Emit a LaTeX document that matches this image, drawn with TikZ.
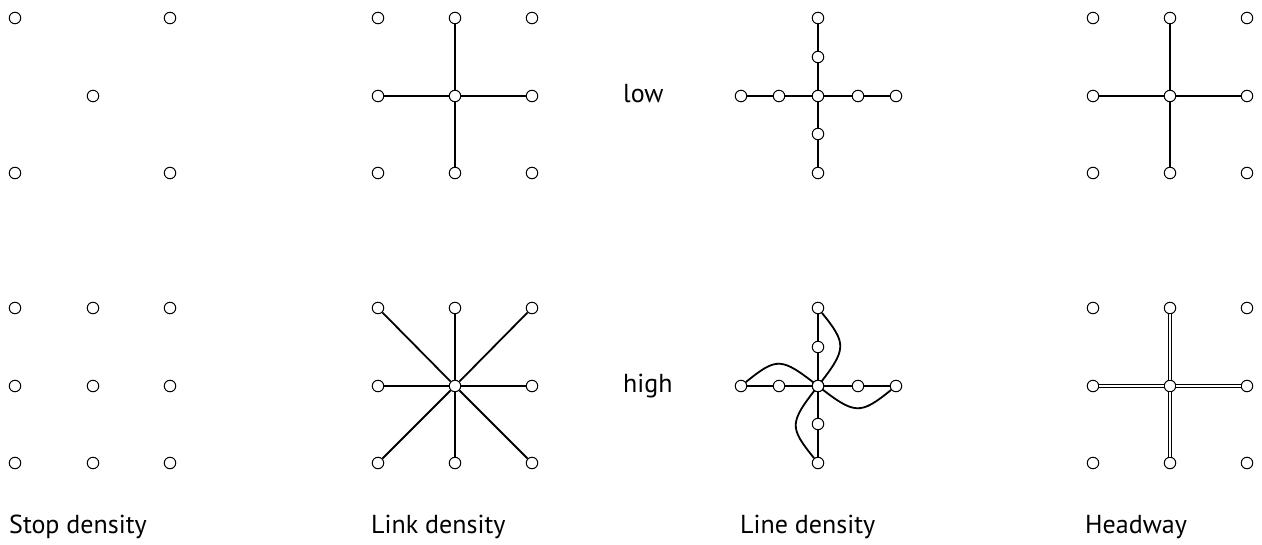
\documentclass[tikz,border=0pt]{standalone}
\usepackage{fontspec}
\setmainfont{PT Sans}
\usetikzlibrary{positioning}

\begin{document}
\begin{tikzpicture}[x=1pt, y=1pt,
  stop/.style={circle, draw, fill=white, inner sep=0pt, minimum size=11.5pt, line width=1pt},
  link/.style={line width=1.1pt},
  heavy/.style={line width=1.8pt},
  twin/.style={double, double distance=2pt, line width=1.3pt},
  lbl/.style={font=\fontsize{26}{30}\selectfont, anchor=base west, inner sep=0pt}
]
  \useasboundingbox (0,0) rectangle (1262,544);

  % stop density
  \node[stop] (sa1) at (15,526) {};
  \node[stop] (sa2) at (170,526) {};
  \node[stop] (sa3) at (93,448) {};
  \node[stop] (sa4) at (15,371) {};
  \node[stop] (sa5) at (170,371) {};
  \foreach \i/\x in {1/15, 2/93, 3/170}
    \foreach \j/\y in {1/236, 2/158, 3/81}
      \node[stop] (sb\i\j) at (\x,\y) {};

  % link density
  \foreach \i/\x in {1/378, 2/455, 3/532}
    \foreach \j/\y in {1/526, 2/448, 3/371}
      \node[stop] (ka\i\j) at (\x,\y) {};
  \foreach \i/\x in {1/378, 2/455, 3/532}
    \foreach \j/\y in {1/236, 2/158, 3/81}
      \node[stop] (kb\i\j) at (\x,\y) {};
  \draw[link] (ka22) -- (ka21) (ka22) -- (ka23) (ka22) -- (ka12) (ka22) -- (ka32);
  \draw[link] (kb22) -- (kb21) (kb22) -- (kb23) (kb22) -- (kb12) (kb22) -- (kb32);
  \draw[heavy] (kb22) -- (kb11) (kb22) -- (kb31) (kb22) -- (kb13) (kb22) -- (kb33);

  % line density
  \node[lbl] (low) at (623,441) {low};
  \node[lbl] (high) at (623,151) {high};

  \node[stop] (la0) at (818,448) {};
  \node[stop] (lan2) at (818,526) {};
  \node[stop] (lan1) at (818,487) {};
  \node[stop] (las1) at (818,410) {};
  \node[stop] (las2) at (818,371) {};
  \node[stop] (law2) at (741,448) {};
  \node[stop] (law1) at (779,448) {};
  \node[stop] (lae1) at (858,448) {};
  \node[stop] (lae2) at (896,448) {};
  \draw[link] (la0) -- (lan1) -- (lan2) (la0) -- (las1) -- (las2)
              (la0) -- (law1) -- (law2) (la0) -- (lae1) -- (lae2);

  \node[stop] (lb0) at (818,158) {};
  \node[stop] (lbn2) at (818,236) {};
  \node[stop] (lbn1) at (818,197) {};
  \node[stop] (lbs1) at (818,120) {};
  \node[stop] (lbs2) at (818,81) {};
  \node[stop] (lbw2) at (741,158) {};
  \node[stop] (lbw1) at (779,158) {};
  \node[stop] (lbe1) at (858,158) {};
  \node[stop] (lbe2) at (896,158) {};
  \draw[link] (lb0) -- (lbn1) -- (lbn2) (lb0) -- (lbs1) -- (lbs2)
              (lb0) -- (lbw1) -- (lbw2) (lb0) -- (lbe1) -- (lbe2);
  \draw[heavy] (lb0.center) .. controls +(29,37) and +(29,-36) .. (lbn2)
               (lb0.center) .. controls +(-37,29) and +(36,29) .. (lbw2)
               (lb0.center) .. controls +(-29,-37) and +(-29,36) .. (lbs2)
               (lb0.center) .. controls +(37,-29) and +(-36,-29) .. (lbe2);
  \node[stop] at (lb0) {};

  % headway
  \foreach \i/\x in {1/1093, 2/1170, 3/1247}
    \foreach \j/\y in {1/526, 2/448, 3/371}
      \node[stop] (ha\i\j) at (\x,\y) {};
  \foreach \i/\x in {1/1093, 2/1170, 3/1247}
    \foreach \j/\y in {1/236, 2/158, 3/81}
      \node[stop] (hb\i\j) at (\x,\y) {};
  \draw[link] (ha22) -- (ha21) (ha22) -- (ha23) (ha22) -- (ha12) (ha22) -- (ha32);
  \draw[twin] (hb22) -- (hb21) (hb22) -- (hb23) (hb22) -- (hb12) (hb22) -- (hb32);

  % captions
  \node[lbl] (cstop) at (9,10) {Stop density};
  \node[lbl] (clink) at (371,10) {Link density};
  \node[lbl] (cline) at (740,10) {Line density};
  \node[lbl] (chead) at (1085,10) {Headway};
\end{tikzpicture}
\end{document}
